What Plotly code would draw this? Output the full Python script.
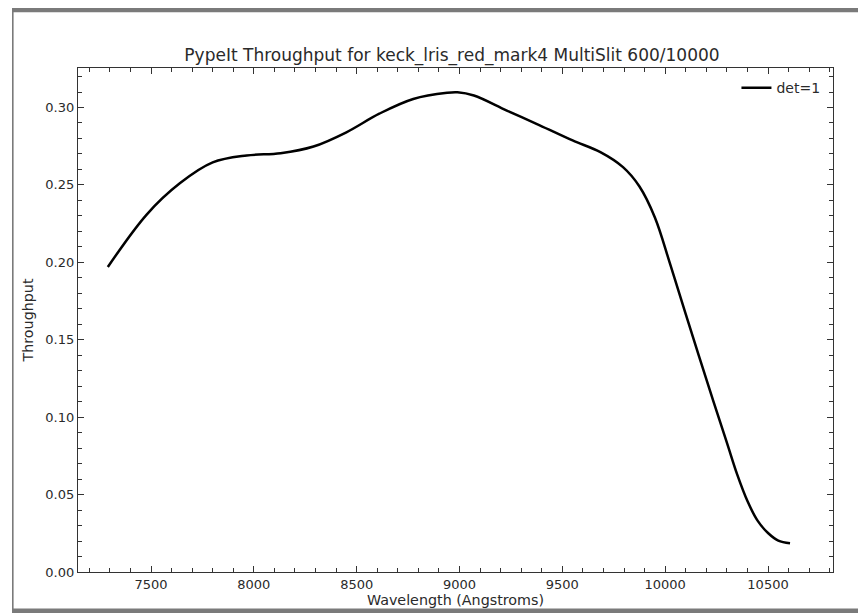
import plotly.graph_objects as go

wavelength = [7290, 7480, 7640, 7800, 7965, 8130, 8290, 8450, 8610, 8775, 8940, 8990,
              9070, 9230, 9390, 9550, 9685, 9795, 9875, 9950, 10025, 10100, 10200,
              10300, 10350, 10400, 10450, 10500, 10550, 10607]
throughput = [0.197, 0.231, 0.251, 0.2645, 0.269, 0.2705, 0.2748, 0.284, 0.296, 0.3055,
              0.3095, 0.3098, 0.3077, 0.298, 0.2885, 0.2787, 0.2712, 0.2615, 0.2490,
              0.2290, 0.1985, 0.1665, 0.1245, 0.0835, 0.0630, 0.0458, 0.0330, 0.0252,
              0.0203, 0.0185]
series_name = "det=1"
title_text = "PypeIt Throughput for keck_lris_red_mark4 MultiSlit 600/10000"
x_title = "Wavelength (Angstroms)"
y_title = "Throughput"

FONT = "DejaVu Sans"
AX = "#333333"
TXT = "#2a2a2a"

fig = go.Figure()
fig.add_trace(go.Scatter(x=wavelength, y=throughput, mode="lines", name=series_name,
                         line=dict(color="black", width=2.5, shape="spline", smoothing=1.0)))

W, H = 858, 613
L, R, T, B = 78, 25, 68, 41
pw, ph = W - L - R, H - T - B

def px(x):
    return (x - L) / pw

def py(y):
    return (H - B - y) / ph

frame_col = "#7a7a7a"
shapes = [
    dict(type="rect", xref="paper", yref="paper", x0=px(12), x1=px(858), y0=py(12.3), y1=py(8),
         fillcolor=frame_col, line=dict(width=0), layer="above"),
    dict(type="rect", xref="paper", yref="paper", x0=px(12), x1=px(13.6), y0=py(613), y1=py(8),
         fillcolor=frame_col, line=dict(width=0), layer="above"),
    dict(type="rect", xref="paper", yref="paper", x0=px(12), x1=px(858), y0=py(613), y1=py(608.5),
         fillcolor=frame_col, line=dict(width=0), layer="above"),
]

axis_common = dict(showline=True, linecolor=AX, linewidth=1.3, mirror="ticks",
                   ticks="inside", ticklen=6, tickwidth=1.2, tickcolor=AX,
                   showgrid=False, zeroline=False, automargin=False,
                   tickfont=dict(family=FONT, size=13, color=TXT))

fig.update_layout(
    width=W, height=H, autosize=False,
    margin=dict(l=L, r=R, t=T, b=B, pad=0),
    paper_bgcolor="white", plot_bgcolor="white",
    font=dict(family=FONT, color=TXT),
    title=dict(text=title_text, x=452 / W, xanchor="center",
               y=1 - 55 / H, yanchor="middle",
               font=dict(family=FONT, size=17, color=TXT)),
    xaxis=dict(range=[7145, 10816], tickvals=[7500, 8000, 8500, 9000, 9500, 10000, 10500],
               ticktext=["7500", "8000", "8500", "9000", "9500", "10000", "10500"],
               title=dict(text=x_title, standoff=4, font=dict(family=FONT, size=14.3, color=TXT)),
               minor=dict(ticks="inside", dtick=100, tick0=7000, ticklen=3.5, tickwidth=1, tickcolor=AX),
               **axis_common),
    yaxis=dict(range=[0, 0.3255], tickvals=[0, 0.05, 0.10, 0.15, 0.20, 0.25, 0.30],
               ticktext=["0.00", "0.05", "0.10", "0.15", "0.20", "0.25", "0.30"],
               title=dict(text=y_title, standoff=8, font=dict(family=FONT, size=14.3, color=TXT)),
               minor=dict(ticks="inside", dtick=0.01, tick0=0, ticklen=3.5, tickwidth=1, tickcolor=AX),
               **axis_common),
    legend=dict(x=0.99, y=0.992, xanchor="right", yanchor="top", bgcolor="rgba(0,0,0,0)",
                borderwidth=0, font=dict(family=FONT, size=14, color=TXT)),
    showlegend=True,
    shapes=shapes,
)

fig.write_html("out.html", config={"displayModeBar": False},
               post_script="document.body.style.margin='0';document.body.style.padding='0';")
